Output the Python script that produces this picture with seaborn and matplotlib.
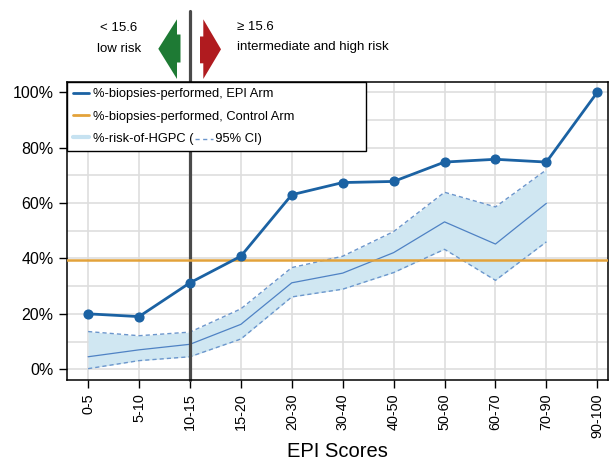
import matplotlib
matplotlib.use("Agg")
import matplotlib.pyplot as plt
import seaborn as sns
import numpy as np
import pandas as pd
from matplotlib.lines import Line2D
from matplotlib.patches import Polygon
from matplotlib.ticker import MultipleLocator
from matplotlib.transforms import blended_transform_factory

# ---------------- data ----------------
categories = ["0-5", "5-10", "10-15", "15-20", "20-30", "30-40", "40-50",
              "50-60", "60-70", "70-90", "90-100"]
epi_arm = [20.0, 19.0, 31.2, 40.8, 63.0, 67.4, 67.8, 74.8, 75.8, 74.8, 100.0]
control_arm = 39.3
risk_hgpc = [4.5, 7.0, 9.0, 16.2, 31.2, 34.7, 42.1, 53.2, 45.2, 59.9]
ci_upper = [13.6, 12.1, 13.4, 21.8, 36.7, 40.8, 49.7, 63.9, 58.6, 72.0]
ci_lower = [0.2, 3.1, 4.5, 10.9, 26.1, 28.9, 34.9, 43.3, 32.1, 46.0]
y_ticks = [0, 20, 40, 60, 80, 100]
y_tick_labels = ["0%", "20%", "40%", "60%", "80%", "100%"]
threshold_category = "10-15"
legend_labels = ["%-biopsies-performed, EPI Arm",
                 "%-biopsies-performed, Control Arm",
                 "%-risk-of-HGPC (      95% CI)"]
left_text = ["< 15.6", "low risk"]
right_text = ["\u2265 15.6", "intermediate and high risk"]

# ---------------- style ----------------
sns.set_style("white")
plt.rcParams["font.family"] = ["Liberation Sans", "DejaVu Sans"]
plt.rcParams["text.color"] = "black"
plt.rcParams["axes.labelcolor"] = "black"
plt.rcParams["xtick.color"] = "black"
plt.rcParams["ytick.color"] = "black"

EPI_C = "#1b62a3"
ORANGE = "#e3a23a"
FILL_C = "#d0e7f2"
MID_C = "#4f82c4"
CI_C = "#6b96cc"
GRID_C = "#dedede"

W, H = 609, 461
fig = plt.figure(figsize=(W / 100, H / 100), dpi=100)
ax_l, ax_r, ax_t, ax_b = 66.7, 608.5, 82.3, 380.3
ax = fig.add_axes([ax_l / W, 1 - ax_b / H, (ax_r - ax_l) / W, (ax_b - ax_t) / H])

xpos = np.arange(len(categories))
df_epi = pd.DataFrame({"x": xpos, "y": epi_arm})
n_ci = len(risk_hgpc)
df_risk = pd.DataFrame({"x": xpos[:n_ci], "mid": risk_hgpc,
                        "lo": ci_lower, "hi": ci_upper})

# CI band
ax.fill_between(df_risk["x"], df_risk["lo"], df_risk["hi"], color=FILL_C,
                lw=0, zorder=1.5)
sns.lineplot(data=df_risk, x="x", y="hi", ax=ax, color=CI_C, lw=1.0,
             linestyle=(0, (3, 2.2)), zorder=1.6)
sns.lineplot(data=df_risk, x="x", y="lo", ax=ax, color=CI_C, lw=1.0,
             linestyle=(0, (3, 2.2)), zorder=1.6)
sns.lineplot(data=df_risk, x="x", y="mid", ax=ax, color=MID_C, lw=0.9,
             zorder=1.7)

# control arm
ax.axhline(control_arm, color=ORANGE, lw=1.8, zorder=2.6)

# threshold line
thr = categories.index(threshold_category)
trans = blended_transform_factory(ax.transData, ax.transAxes)
ytop = (ax_b - 11) / (ax_b - ax_t)
ax.add_line(Line2D([thr, thr], [0, ytop], transform=trans, color="#4a4a4a",
                   lw=2.3, clip_on=False, zorder=2.5))

# EPI arm
sns.lineplot(data=df_epi, x="x", y="y", ax=ax, color=EPI_C, lw=2.0,
             marker="o", markersize=6.3, markeredgecolor=EPI_C,
             markerfacecolor=EPI_C, markeredgewidth=1.0, zorder=3)

# axes formatting
ax.set_xlim(-0.42, 10.22)
ax.set_ylim(-4, 103.6)
ax.set_xticks(xpos)
ax.set_xticklabels(categories, rotation=90)
ax.set_yticks(y_ticks)
ax.set_yticklabels(y_tick_labels)
ax.yaxis.set_minor_locator(MultipleLocator(10))
ax.grid(True, which="both", color=GRID_C, lw=1.2)
ax.set_axisbelow(True)
ax.tick_params(axis="x", length=6, width=1, pad=3.5, labelsize=10.4,
               bottom=True)
ax.tick_params(axis="y", which="major", length=6, width=1, pad=3.5,
               labelsize=11.5, left=True)
ax.tick_params(axis="y", which="minor", length=0)
for s in ax.spines.values():
    s.set_color("black")
    s.set_linewidth(1.1)
ax.set_xlabel("EPI Scores", fontsize=14.5, labelpad=3)
ax.set_ylabel("")

# legend
handles = [Line2D([], [], color=EPI_C, lw=2.0),
           Line2D([], [], color=ORANGE, lw=2.0),
           Line2D([], [], color="#c6e2f1", lw=3.0)]
leg_w = (366 - ax_l) / (ax_r - ax_l)
leg = ax.legend(handles, legend_labels, loc="upper left",
                bbox_to_anchor=(0, 0, leg_w, 1), mode="expand",
                borderaxespad=0, frameon=True, fancybox=False,
                edgecolor="black", framealpha=1, fontsize=9.3,
                handlelength=1.25, handletextpad=0.3, labelspacing=0.8,
                borderpad=0.45)
leg.get_frame().set_linewidth(1.0)
leg.set_zorder(5)

# dashed sample inside third legend label
fig.canvas.draw()
renderer = fig.canvas.get_renderer()
t3 = leg.get_texts()[2]
bb = t3.get_window_extent(renderer)
fp = t3.get_fontproperties()
lbl = legend_labels[2]
pre = lbl[:lbl.index("(") + 1]
pre2 = lbl[:lbl.index("9")]
tmp = fig.text(0, 0, pre, fontproperties=fp)
w1 = tmp.get_window_extent(renderer).width
tmp.remove()
tmp = fig.text(0, 0, pre2, fontproperties=fp)
w2 = tmp.get_window_extent(renderer).width
tmp.remove()
x0d = bb.x0 + w1 + 1.5
x1d = bb.x0 + w2 - 1.5
yd = bb.y0 + bb.height * 0.52
inv = fig.transFigure.inverted()
p0 = inv.transform((x0d, yd))
p1 = inv.transform((x1d, yd))
fig.add_artist(Line2D([p0[0], p1[0]], [p0[1], p1[1]], transform=fig.transFigure,
                      color=CI_C, lw=1.0, linestyle=(0, (3, 2.5)), zorder=10))

# arrows (pixel coordinates, y from top)
def fpt(x, y):
    return (x / W, 1 - y / H)

green = [fpt(158.3, 48.8), fpt(177, 19.3), fpt(177, 34.5), fpt(180.5, 34.5),
         fpt(180.5, 62.5), fpt(177, 62.5), fpt(177, 79)]
red = [fpt(221, 49.3), fpt(203.3, 19.3), fpt(203.3, 36.5), fpt(200, 36.5),
       fpt(200, 63.3), fpt(203.3, 63.3), fpt(203.3, 79)]
fig.add_artist(Polygon(green, closed=True, transform=fig.transFigure,
                       facecolor="#1e7a34", edgecolor="none"))
fig.add_artist(Polygon(red, closed=True, transform=fig.transFigure,
                       facecolor="#b01b1f", edgecolor="none"))

fig.text(*fpt(119, 28), left_text[0], ha="center", va="center", fontsize=9.5)
fig.text(*fpt(119, 49), left_text[1], ha="center", va="center", fontsize=9.5)
fig.text(*fpt(237, 27), right_text[0], ha="left", va="center", fontsize=9.5)
fig.text(*fpt(237, 47), right_text[1], ha="left", va="center", fontsize=9.5)

fig.savefig("out.png", dpi=100)
